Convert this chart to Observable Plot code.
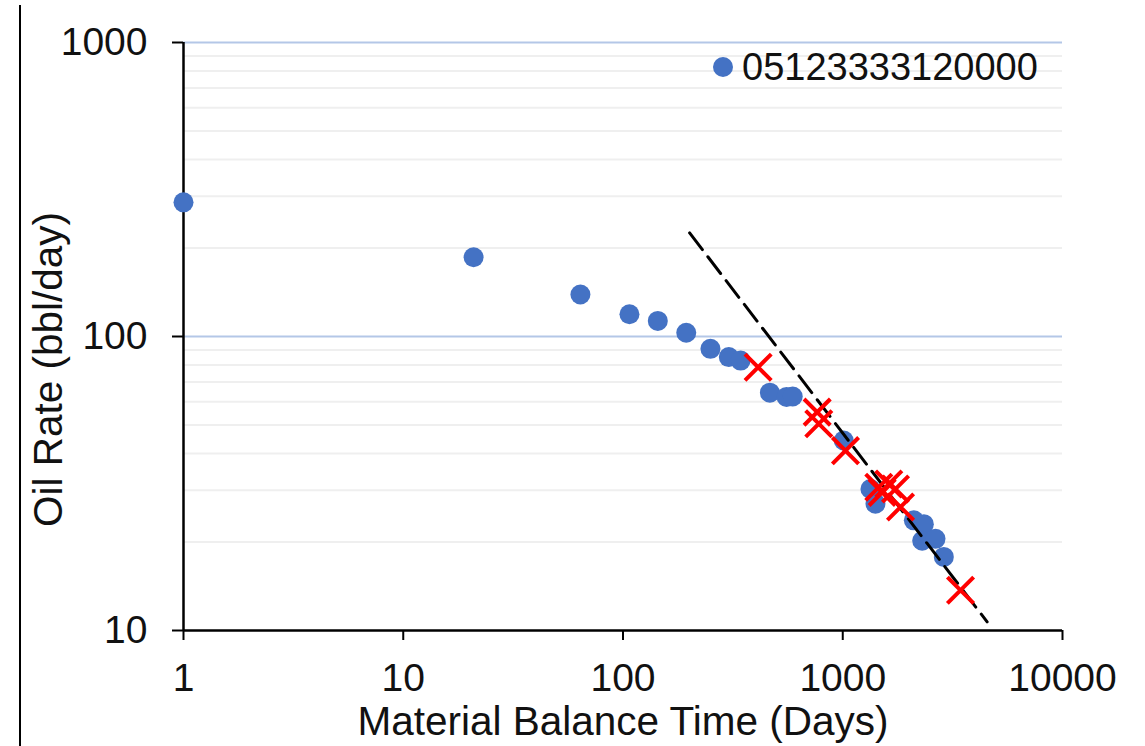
<!DOCTYPE html>
<html>
<head>
<meta charset="utf-8">
<script src="https://cdn.jsdelivr.net/npm/d3@7"></script>
<script src="https://cdn.jsdelivr.net/npm/@observablehq/plot@0.6"></script>
<style>
  body { margin: 0; background: #fff; }
  #chart { position: relative; width: 1145px; height: 746px; font-family: "Liberation Sans", Arial, sans-serif; color: #111; }
  #edge { position: absolute; left: 19px; top: 5px; bottom: 0; border-left: 2px solid #000; }
  .legend { position: absolute; left: 713px; top: 44px; display: flex; align-items: center; font-size: 38px; line-height: 46px; }
  .legend .sw { width: 20px; height: 20px; border-radius: 50%; background: #4472c4; margin-right: 9px; }
  svg { position: absolute; left: 0; top: 0; }
</style>
</head>
<body>
<div id="chart"><div id="edge"></div></div>
<script>
// Well identifier shown in the legend
const seriesName = "05123333120000";

// Production points: material balance time (days) vs oil rate (bbl/day)
const wellTime = [1, 20.9, 64, 107, 144, 194, 250, 303, 343, 466, 555, 592, 1010, 1337, 1409, 2106, 2339, 2299, 2643, 2884];
const wellRate = [286, 186, 139, 119, 113, 103, 90.8, 85.1, 82.8, 64.4, 62.3, 62.5, 44.3, 30.3, 27.0, 23.7, 23.0, 20.2, 20.5, 17.8];

// Points selected for the boundary-dominated fit
const fitTime = [412, 765, 778, 1029, 1459, 1620, 1738, 1512, 1832, 3435];
const fitRate = [78.6, 55.3, 50.5, 40.9, 30.7, 31.5, 30.3, 29.5, 26.3, 13.7];

// Fitted decline line end points
const trendTime = [201, 4540];
const trendRate = [225, 10.7];

// Axis ticks and gridlines
const xTicks = [1, 10, 100, 1000, 10000];
const yTicks = [10, 100, 1000];
const majorGrid = [100, 1000];
const minorGrid = [20, 30, 40, 50, 60, 70, 80, 90, 200, 300, 400, 500, 600, 700, 800, 900];

const xLabel = "Material Balance Time (Days)";
const yLabel = "Oil Rate (bbl/day)";

const well = wellTime.map((t, i) => ({t, q: wellRate[i]}));
const fit = fitTime.map((t, i) => ({t, q: fitRate[i]}));
const trend = trendTime.map((t, i) => ({t, q: trendRate[i]}));

const chart = Plot.plot({
  width: 1145,
  height: 746,
  marginLeft: 183,
  marginRight: 83,
  marginTop: 42,
  marginBottom: 116,
  style: {fontFamily: "'Liberation Sans', Arial, sans-serif", fontSize: "39px", color: "#111", background: "transparent"},
  x: {type: "log", domain: [1, 10000]},
  y: {type: "log", domain: [10, 1000]},
  marks: [
    Plot.ruleY(minorGrid, {stroke: "#efefef", strokeWidth: 2}),
    Plot.ruleY(majorGrid, {stroke: "#b4c7e7", strokeWidth: 2}),
    Plot.axisX({ticks: xTicks, tickFormat: d => String(d), tickSize: 10, tickPadding: 23, label: null, stroke: "#000", strokeWidth: 2, fontSize: 39}),
    Plot.axisY({ticks: yTicks, tickFormat: d => String(d), tickSize: 11, tickPadding: 25, label: null, stroke: "#000", strokeWidth: 2, fontSize: 39}),
    Plot.ruleX([1], {stroke: "#000", strokeWidth: 2.5}),
    Plot.ruleY([10], {stroke: "#000", strokeWidth: 2.5}),
    Plot.dot(well, {x: "t", y: "q", r: 10, fill: "#4472c4"}),
    Plot.line(trend, {x: "t", y: "q", stroke: "#000", strokeWidth: 3, strokeDasharray: "21,9"}),
    Plot.dot(fit, {x: "t", y: "q", symbol: "times", r: 12, stroke: "#ff0000", strokeWidth: 4}),
    Plot.text([xLabel], {frameAnchor: "bottom", lineAnchor: "middle", textAnchor: "middle", dy: 92, fontSize: 40.5}),
    Plot.text([yLabel], {frameAnchor: "left", lineAnchor: "middle", textAnchor: "middle", rotate: -90, dx: -134, dy: 33, fontSize: 40.5})
  ]
});

const root = document.getElementById("chart");
root.appendChild(chart);
const legend = document.createElement("div");
legend.className = "legend";
legend.innerHTML = `<span class="sw"></span><span></span>`;
legend.lastChild.textContent = seriesName;
root.appendChild(legend);
</script>
</body>
</html>
